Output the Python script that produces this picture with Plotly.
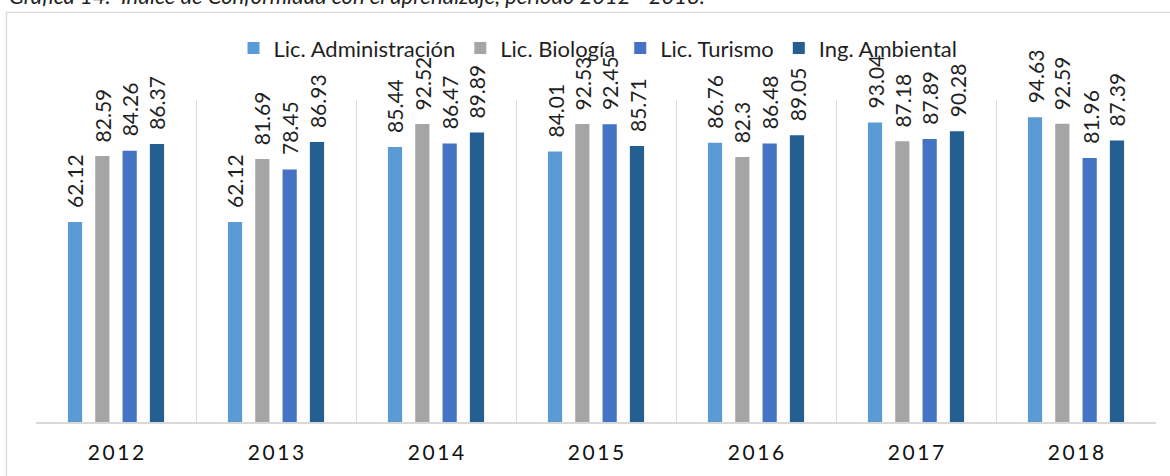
import plotly.graph_objects as go

years = ["2012", "2013", "2014", "2015", "2016", "2017", "2018"]
series_names = ["Lic. Administración", "Lic. Biología", "Lic. Turismo", "Ing. Ambiental"]
adm = [62.12, 62.12, 85.44, 84.01, 86.76, 93.04, 94.63]
bio = [82.59, 81.69, 92.52, 92.53, 82.3, 87.18, 92.59]
tur = [84.26, 78.45, 86.47, 92.45, 86.48, 87.89, 81.96]
amb = [86.37, 86.93, 89.89, 85.71, 89.05, 90.28, 87.39]
colors = ["#5B9BD5", "#A5A5A5", "#4472C4", "#255E91"]
title_text = "<i>Gráfica 14.\u00a0 Índice de Conformidad con el aprendizaje, periodo 2012 - 2018.</i>"

W, H = 1170, 476
ML, MR, MT, MB = 36, 14, 100, 47
PW, PH = W - ML - MR, H - MT - MB
FONT = "Lato"
TXT = "#1f1f1f"
BARGAP = 0.317
BARGROUPGAP = 0.48

pos = list(range(len(years)))
data = [adm, bio, tur, amb]

fig = go.Figure()
for name, vals, col in zip(series_names, data, colors):
    fig.add_trace(go.Bar(x=pos, y=vals, name=name, marker=dict(color=col, line=dict(width=0))))

n = len(data)
annotations = []
for i, vals in enumerate(data):
    off = (i - (n - 1) / 2) * (1 - BARGAP) / n
    for p, v in zip(pos, vals):
        annotations.append(dict(
            x=p + off, y=v, xref="x", yref="y", text=f"{v:g}", textangle=-90,
            showarrow=False, xanchor="center", yanchor="bottom", yshift=12,
            font=dict(family=FONT, size=21, color=TXT)))

annotations.append(dict(
    x=(7 - ML) / PW, y=(H - MB - 9) / PH, xref="paper", yref="paper", text=title_text,
    showarrow=False, xanchor="left", yanchor="bottom",
    font=dict(family=FONT, size=22, color="#222")))

fig.update_layout(
    width=W, height=H,
    margin=dict(l=ML, r=MR, t=MT, b=MB, pad=0),
    paper_bgcolor="white", plot_bgcolor="white",
    barmode="group", bargap=BARGAP, bargroupgap=BARGROUPGAP,
    font=dict(family=FONT, color=TXT),
    showlegend=True,
    legend=dict(orientation="h", xanchor="center", x=(598 - ML) / PW,
                yanchor="middle", y=(H - MB - 47) / PH,
                font=dict(family=FONT, size=22, color=TXT),
                bgcolor="rgba(0,0,0,0)", itemclick=False),
    xaxis=dict(range=[-0.5, len(years) - 0.5], tickmode="array", tickvals=pos,
               ticktext=["\u2009".join(y) for y in years],
               tickfont=dict(family=FONT, size=21, color="#111"),
               showgrid=False, zeroline=False, showline=True, linecolor="#D9D9D9", linewidth=1.5,
               ticks="", ticklabelstandoff=11,
               minor=dict(tickmode="array", tickvals=[p + 0.5 for p in pos],
                          showgrid=True, gridcolor="#D9D9D9", gridwidth=1.3, ticks="")),
    yaxis=dict(range=[0, 100], visible=False, showgrid=False, zeroline=False),
    annotations=annotations,
    shapes=[dict(type="rect", xref="paper", yref="paper",
                 x0=(6.5 - ML) / PW, x1=(W + 20 - ML) / PW,
                 y0=(-MB - 20) / PH, y1=(H - MB - 10.5) / PH,
                 line=dict(color="#D9D9D9", width=1.3), fillcolor="rgba(0,0,0,0)", layer="below")],
)

fig.write_html("out.html", config={"displayModeBar": False},
               post_script="document.body.style.margin='0';")
